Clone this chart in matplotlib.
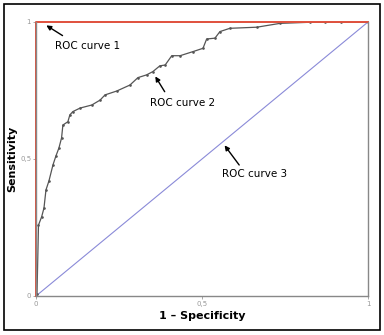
import matplotlib
matplotlib.use('Agg')
from matplotlib import pyplot as plt
from matplotlib.patches import Rectangle

# ROC curve 1: perfect classifier
roc1_fpr = [0.0, 0.0, 1.0]
roc1_tpr = [0.0, 1.0, 1.0]

# ROC curve 2: realistic classifier
roc2_fpr = [0.0, 0.003, 0.0075, 0.017, 0.024, 0.030, 0.039, 0.051, 0.060, 0.069,
            0.077, 0.081, 0.096, 0.102, 0.111, 0.133, 0.168, 0.193, 0.208, 0.243,
            0.283, 0.307, 0.333, 0.352, 0.373, 0.389, 0.409, 0.434, 0.473, 0.503,
            0.514, 0.539, 0.554, 0.584, 0.665, 0.735, 0.825, 0.87, 0.92, 1.0]
roc2_tpr = [0.0, 0.007, 0.259, 0.289, 0.321, 0.387, 0.420, 0.478, 0.511, 0.540,
            0.577, 0.624, 0.636, 0.661, 0.673, 0.686, 0.697, 0.715, 0.734, 0.748,
            0.770, 0.797, 0.807, 0.819, 0.840, 0.843, 0.877, 0.877, 0.892, 0.904,
            0.938, 0.941, 0.965, 0.977, 0.981, 0.995, 0.999, 1.0, 1.0, 1.0]

# ROC curve 3: random guess
roc3_fpr = [0.0, 1.0]
roc3_tpr = [0.0, 1.0]

ticks = [0, 0.5, 1]
tick_labels = ['0', '0,5', '1']

fig = plt.figure(figsize=(3.84, 3.35), dpi=100)
fig.patches.append(Rectangle((4/384, 5/335), 376/384, 326/335, transform=fig.transFigure,
                             fill=False, edgecolor='black', linewidth=1.2))
ax = fig.add_axes([36/384, 39/335, 332/384, 274/335])

ax.plot(roc3_fpr, roc3_tpr, color='#8a8ad8', linewidth=0.8)
ax.plot(roc2_fpr, roc2_tpr, color='#555555', linewidth=0.9, marker='.', markersize=1.8)
ax.plot(roc1_fpr, roc1_tpr, color='#e0503c', linewidth=1.4, clip_on=False)

ax.set_xlim(0, 1)
ax.set_ylim(0, 1)
ax.set_xticks(ticks)
ax.set_xticklabels(tick_labels)
ax.set_yticks(ticks)
ax.set_yticklabels(tick_labels)
ax.tick_params(labelsize=5, colors='#999999', length=2, width=0.6, pad=1.5)

for side in ['left', 'bottom', 'right']:
    ax.spines[side].set_color('#888888')
    ax.spines[side].set_linewidth(1.0)
ax.spines['top'].set_visible(False)

ax.set_xlabel('1 – Specificity', fontsize=8, fontweight='bold', labelpad=3)
ax.set_ylabel('Sensitivity', fontsize=8, fontweight='bold', labelpad=2)

# labels and their arrows
arrow = dict(arrowstyle='-|>', color='black', linewidth=1.0, mutation_scale=7)
ax.text(0.057, 0.912, 'ROC curve 1', fontsize=7.5, va='center', ha='left')
ax.annotate('', xy=(0.024, 0.993), xytext=(0.087, 0.945), arrowprops=arrow)
ax.text(0.343, 0.704, 'ROC curve 2', fontsize=7.5, va='center', ha='left')
ax.annotate('', xy=(0.355, 0.81), xytext=(0.392, 0.737), arrowprops=arrow)
ax.text(0.56, 0.445, 'ROC curve 3', fontsize=7.5, va='center', ha='left')
ax.annotate('', xy=(0.563, 0.558), xytext=(0.617, 0.47), arrowprops=arrow)

fig.savefig('out.png', dpi=100)
